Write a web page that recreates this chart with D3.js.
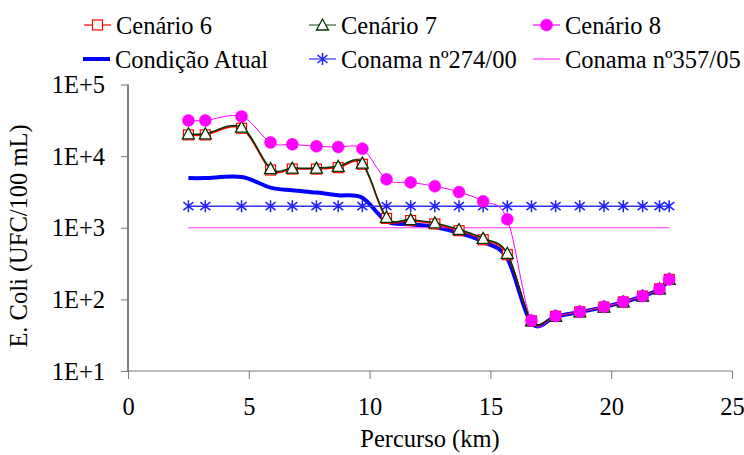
<!DOCTYPE html>
<html>
<head>
<meta charset="utf-8">
<script src="https://cdn.jsdelivr.net/npm/d3@7"></script>
<style>
  html, body { margin: 0; padding: 0; background: #fff; }
  svg { display: block; }
</style>
</head>
<body>
<svg id="chart" width="744" height="455"></svg>
<script>
// ---- Data ----
const percurso = [2.5, 3.2, 4.7, 5.9, 6.8, 7.8, 8.7, 9.7, 10.7, 11.7, 12.7, 13.7, 14.7, 15.7, 16.7, 17.7, 18.7, 19.7, 20.5, 21.3, 22.0, 22.4];
const cenario6 = [19800, 19800, 24500, 6400, 6600, 6600, 6900, 7700, 1350, 1260, 1130, 910, 680, 420, 50, 58, 67, 78, 92, 111, 140, 190];
const cenario7 = [20500, 20500, 25400, 6700, 6800, 6800, 7200, 8000, 1400, 1300, 1170, 945, 710, 440, 50, 58, 67, 78, 92, 111, 140, 190];
const cenario8 = [31500, 31500, 35800, 15500, 14600, 13700, 13400, 12700, 4740, 4300, 3790, 3150, 2340, 1310, 50.6, 58.4, 67, 78.7, 92.4, 111, 140, 190];
const condicaoAtual = [4940, 4940, 5100, 3630, 3330, 3100, 2840, 2620, 1230, 1120, 1026, 845, 634, 372, 46.7, 57.5, 66.5, 78, 91.5, 110, 139, 189];
const conama274 = [2000, 2000, 2000, 2000, 2000, 2000, 2000, 2000, 2000, 2000, 2000, 2000, 2000, 2000, 2000, 2000, 2000, 2000, 2000, 2000, 2000, 2000];
const conama357 = [1000, 1000, 1000, 1000, 1000, 1000, 1000, 1000, 1000, 1000, 1000, 1000, 1000, 1000, 1000, 1000, 1000, 1000, 1000, 1000, 1000, 1000];
const xTicks = [0, 5, 10, 15, 20, 25];
const yTicks = [10, 100, 1000, 10000, 100000];
const yTickLabels = ["1E+1", "1E+2", "1E+3", "1E+4", "1E+5"];
const seriesNames = ["Cenário 6", "Cenário 7", "Cenário 8", "Condição Atual", "Conama nº274/00", "Conama nº357/05"];

// ---- Layout ----
const svg = d3.select("#chart");
const X0 = 128, X1 = 732, Y0 = 371, Y1 = 84.5;
const FONT = 24.5;
const FAMILY = '"Liberation Serif", monospace';

const x = d3.scaleLinear().domain([0, 25]).range([X0, X1]);
const y = d3.scaleLog().domain([10, 100000]).range([Y0, Y1]);

function styleText(sel) {
  return sel.style("font-family", FAMILY).style("font-size", FONT + "px").style("fill", "#000");
}

// Axes
const yAxis = svg.append("g").attr("transform", `translate(${X0},0)`)
  .call(d3.axisLeft(y).tickValues(yTicks).tickSize(7).tickPadding(16)
    .tickFormat((d, i) => yTickLabels[i]));
yAxis.select(".domain").attr("stroke", "#000").attr("d", `M0,${Y0}V${Y1}`);
yAxis.selectAll(".tick line").attr("stroke", "#777");
styleText(yAxis.selectAll(".tick text")).attr("dy", "0.33em");

const xAxis = svg.append("g").attr("transform", `translate(0,${Y0})`)
  .call(d3.axisBottom(x).tickValues(xTicks).tickSize(8).tickPadding(19));
xAxis.select(".domain").attr("stroke", "#777").attr("d", `M${X0},0H${X1}`);
xAxis.selectAll(".tick line").attr("stroke", "#777");
styleText(xAxis.selectAll(".tick text"));

// Axis titles
styleText(svg.append("text").attr("x", (X0 + X1) / 2).attr("y", 447)
  .attr("text-anchor", "middle")).text("Percurso (km)");
styleText(svg.append("text").attr("transform", `translate(27,${236}) rotate(-90)`)
  .attr("text-anchor", "middle")).text("E. Coli (UFC/100 mL)");

// ---- Series ----
const curve = d3.curveCatmullRom.alpha(0);
function pts(vals) { return percurso.map((k, i) => [x(k), y(vals[i])]); }
const line = d3.line().curve(curve);

const plot = svg.append("g");

const markers = {
  square: (g, cx, cy) => g.append("rect").attr("x", cx - 5).attr("y", cy - 5).attr("width", 10).attr("height", 10)
    .attr("fill", "#fff").attr("stroke", "#ff0000").attr("stroke-width", 1.2),
  triangle: (g, cx, cy) => g.append("path").attr("d", `M${cx},${cy - 6}L${cx + 6},${cy + 5}L${cx - 6},${cy + 5}Z`)
    .attr("fill", "#fff").attr("stroke", "#003300").attr("stroke-width", 1.3),
  circle: (g, cx, cy) => g.append("circle").attr("cx", cx).attr("cy", cy).attr("r", 6)
    .attr("fill", "#ff00ff").attr("stroke", "#ff00ff").attr("stroke-width", 0.5),
  star: (g, cx, cy) => g.append("path")
    .attr("d", `M${cx},${cy - 6}V${cy + 6}M${cx - 5},${cy - 4}L${cx + 5},${cy + 4}M${cx - 5},${cy + 4}L${cx + 5},${cy - 4}`)
    .attr("stroke", "#2020ff").attr("stroke-width", 1.5).attr("fill", "none")
};

const series = [
  { name: seriesNames[3], vals: condicaoAtual, color: "#0000ff", width: 4, marker: null },
  { name: seriesNames[5], vals: conama357, color: "#ff33ff", width: 1.2, marker: null },
  { name: seriesNames[4], vals: conama274, color: "#3333ff", width: 1.5, marker: "star" },
  { name: seriesNames[0], vals: cenario6, color: "#ff0000", width: 1.5, marker: "square" },
  { name: seriesNames[1], vals: cenario7, color: "#003300", width: 1.5, marker: "triangle" },
  { name: seriesNames[2], vals: cenario8, color: "#ff00ff", width: 1, marker: "circle" }
];

series.forEach(s => {
  const p = pts(s.vals);
  plot.append("path").attr("d", line(p)).attr("fill", "none")
    .attr("stroke", s.color).attr("stroke-width", s.width).attr("stroke-linejoin", "round");
  if (s.marker) {
    const mg = plot.append("g");
    p.forEach(([cx, cy]) => markers[s.marker](mg, cx, cy));
  }
});

// ---- Legend ----
const legendItems = [
  { name: seriesNames[0], x: 84, y: 25, color: "#ff0000", width: 1.2, marker: "square" },
  { name: seriesNames[1], x: 309, y: 25, color: "#336633", width: 1.2, marker: "triangle" },
  { name: seriesNames[2], x: 533, y: 25, color: "#ff66ff", width: 2, marker: "circle" },
  { name: seriesNames[3], x: 83, y: 59, color: "#0000ff", width: 4, marker: null },
  { name: seriesNames[4], x: 309, y: 59, color: "#3333ff", width: 1.2, marker: "star" },
  { name: seriesNames[5], x: 533, y: 59, color: "#ff33ff", width: 1.2, marker: null }
];
const lg = svg.append("g");
legendItems.forEach(it => {
  const g = lg.append("g");
  g.append("line").attr("x1", it.x).attr("x2", it.x + 27).attr("y1", it.y).attr("y2", it.y)
    .attr("stroke", it.color).attr("stroke-width", it.width);
  if (it.marker) markers[it.marker](g, it.x + 13.5, it.y);
  styleText(g.append("text").attr("x", it.x + 32).attr("y", it.y + 8.5)).text(it.name);
});
</script>
</body>
</html>
